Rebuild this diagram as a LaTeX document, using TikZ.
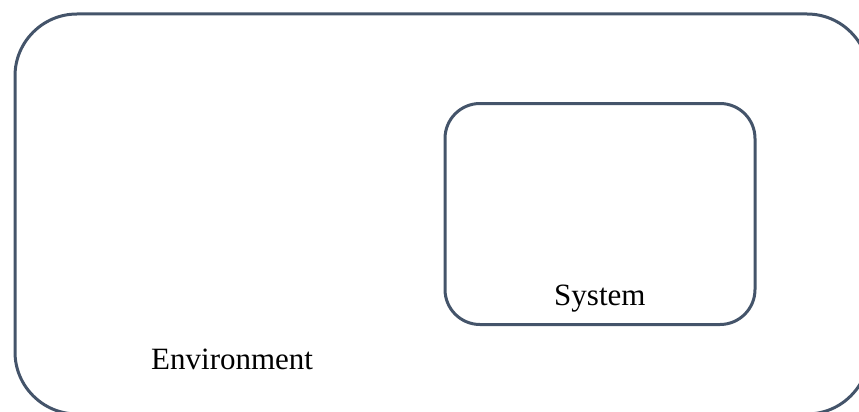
\documentclass[tikz,border=0pt]{standalone}
\usepackage{fontspec}
\setmainfont{Liberation Serif}
\definecolor{boxline}{HTML}{44546A}
\begin{document}
\begin{tikzpicture}[x=1pt,y=-1pt,
  roundbox/.style={draw=boxline,line width=3pt,rectangle,inner sep=0pt},
  label/.style={font=\fontsize{31}{36}\selectfont,inner sep=0pt,anchor=base west}]
\useasboundingbox (0,0) rectangle (859,412);
\node[roundbox,rounded corners=62pt,minimum width=854pt,minimum height=400pt] (env) at (442,214) {};
\node[roundbox,rounded corners=35pt,minimum width=310pt,minimum height=221pt] (sys) at (600,214) {};
\node[label] (envtext) at (151,369) {Environment};
\node[label] (systext) at (554,305) {System};
\end{tikzpicture}
\end{document}
